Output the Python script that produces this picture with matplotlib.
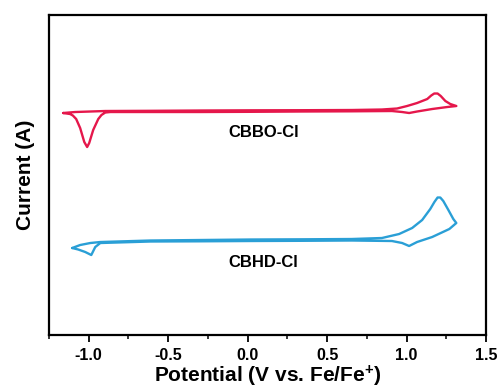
import matplotlib
matplotlib.use("Agg")
import matplotlib.pyplot as plt
from matplotlib.ticker import MultipleLocator

plt.rcParams['font.family'] = ['Liberation Sans', 'DejaVu Sans']
plt.rcParams['font.weight'] = 'bold'
plt.rcParams['mathtext.fontset'] = 'custom'
plt.rcParams['mathtext.rm'] = 'Liberation Sans:bold'
plt.rcParams['mathtext.bf'] = 'Liberation Sans:bold'
plt.rcParams['mathtext.default'] = 'rm'

# CBBO-Cl cyclic voltammogram (potential V vs Fc/Fc+, current arb. units)
cbbo_potential = [-1.161, -1.085, -0.99, -0.896, -0.611, -0.294, 0.022, 0.339, 0.655, 0.845,
                  0.94, 1.003, 1.066, 1.13, 1.155, 1.174, 1.195, 1.215, 1.244, 1.275, 1.313,
                  1.256, 1.161, 1.066, 1.016, 0.972, 0.908, 0.655, 0.339, 0.022, -0.294,
                  -0.611, -0.864, -0.896, -0.92, -0.94, -0.972, -0.997, -1.01, -1.028, -1.054,
                  -1.079, -1.1, -1.117, -1.161]
cbbo_current = [6.2, 6.3, 6.35, 6.4, 6.42, 6.45, 6.47, 6.48, 6.5, 6.55,
                6.65, 6.9, 7.2, 7.6, 7.95, 8.15, 8.15, 7.9, 7.4, 7.1, 6.9,
                6.8, 6.6, 6.35, 6.2, 6.3, 6.4, 6.37, 6.35, 6.32, 6.3,
                6.3, 6.3, 6.25, 6.0, 5.6, 4.5, 3.2, 2.8, 3.3, 4.7,
                5.6, 5.95, 6.1, 6.2]

# CBHD-Cl cyclic voltammogram
cbhd_potential = [-1.104, -1.054, -0.99, -0.927, -0.611, -0.294, 0.022, 0.339, 0.655, 0.845,
                  0.953, 1.035, 1.098, 1.149, 1.175, 1.195, 1.212, 1.231, 1.263, 1.294, 1.313,
                  1.269, 1.161, 1.066, 1.016, 0.972, 0.908, 0.655, 0.339, 0.022, -0.294,
                  -0.611, -0.927, -0.959, -0.984, -1.022, -1.066, -1.104]
cbhd_current = [-7.3, -7.0, -6.8, -6.7, -6.55, -6.5, -6.45, -6.43, -6.4, -6.3,
                -5.9, -5.3, -4.5, -3.4, -2.7, -2.25, -2.25, -2.6, -3.5, -4.4, -4.8,
                -5.4, -6.2, -6.7, -7.1, -6.8, -6.6, -6.55, -6.58, -6.6, -6.63,
                -6.65, -6.8, -7.2, -8.0, -7.7, -7.45, -7.3]

labels = ["CBBO-Cl", "CBHD-Cl"]
colors = ["#E5174B", "#2A9FD6"]

fig = plt.figure(figsize=(4.98, 3.89), dpi=100)
ax = fig.add_axes([0.0984, 0.1388, 0.8776, 0.8226])

ax.plot(cbbo_potential, cbbo_current, color=colors[0], lw=1.7,
        solid_joinstyle='round', solid_capstyle='round')
ax.plot(cbhd_potential, cbhd_current, color=colors[1], lw=1.7,
        solid_joinstyle='round', solid_capstyle='round')

ax.text(0.098, 4.3, labels[0], ha='center', va='center', fontsize=12, fontweight='bold')
ax.text(0.098, -8.7, labels[1], ha='center', va='center', fontsize=12, fontweight='bold')

ax.set_xlim(-1.25, 1.5)
ax.set_ylim(-16, 16)
ax.xaxis.set_minor_locator(MultipleLocator(0.25))
ax.set_xticks([-1.0, -0.5, 0.0, 0.5, 1.0, 1.5])
ax.set_xticklabels(["-1.0", "-0.5", "0.0", "0.5", "1.0", "1.5"])
ax.set_yticks([])
ax.tick_params(axis='x', which='major', direction='out', length=5, width=1.3, labelsize=11.5, pad=4)
ax.tick_params(axis='x', which='minor', direction='out', length=3, width=1.1)
for s in ax.spines.values():
    s.set_linewidth(1.6)

ax.set_xlabel("Potential (V vs. Fe/Fe$^{\\mathbf{+}}$)", fontsize=15, fontweight='bold', labelpad=1)
ax.set_ylabel("Current (A)", fontsize=15, fontweight='bold', labelpad=10)

fig.savefig("out.png", dpi=100)
